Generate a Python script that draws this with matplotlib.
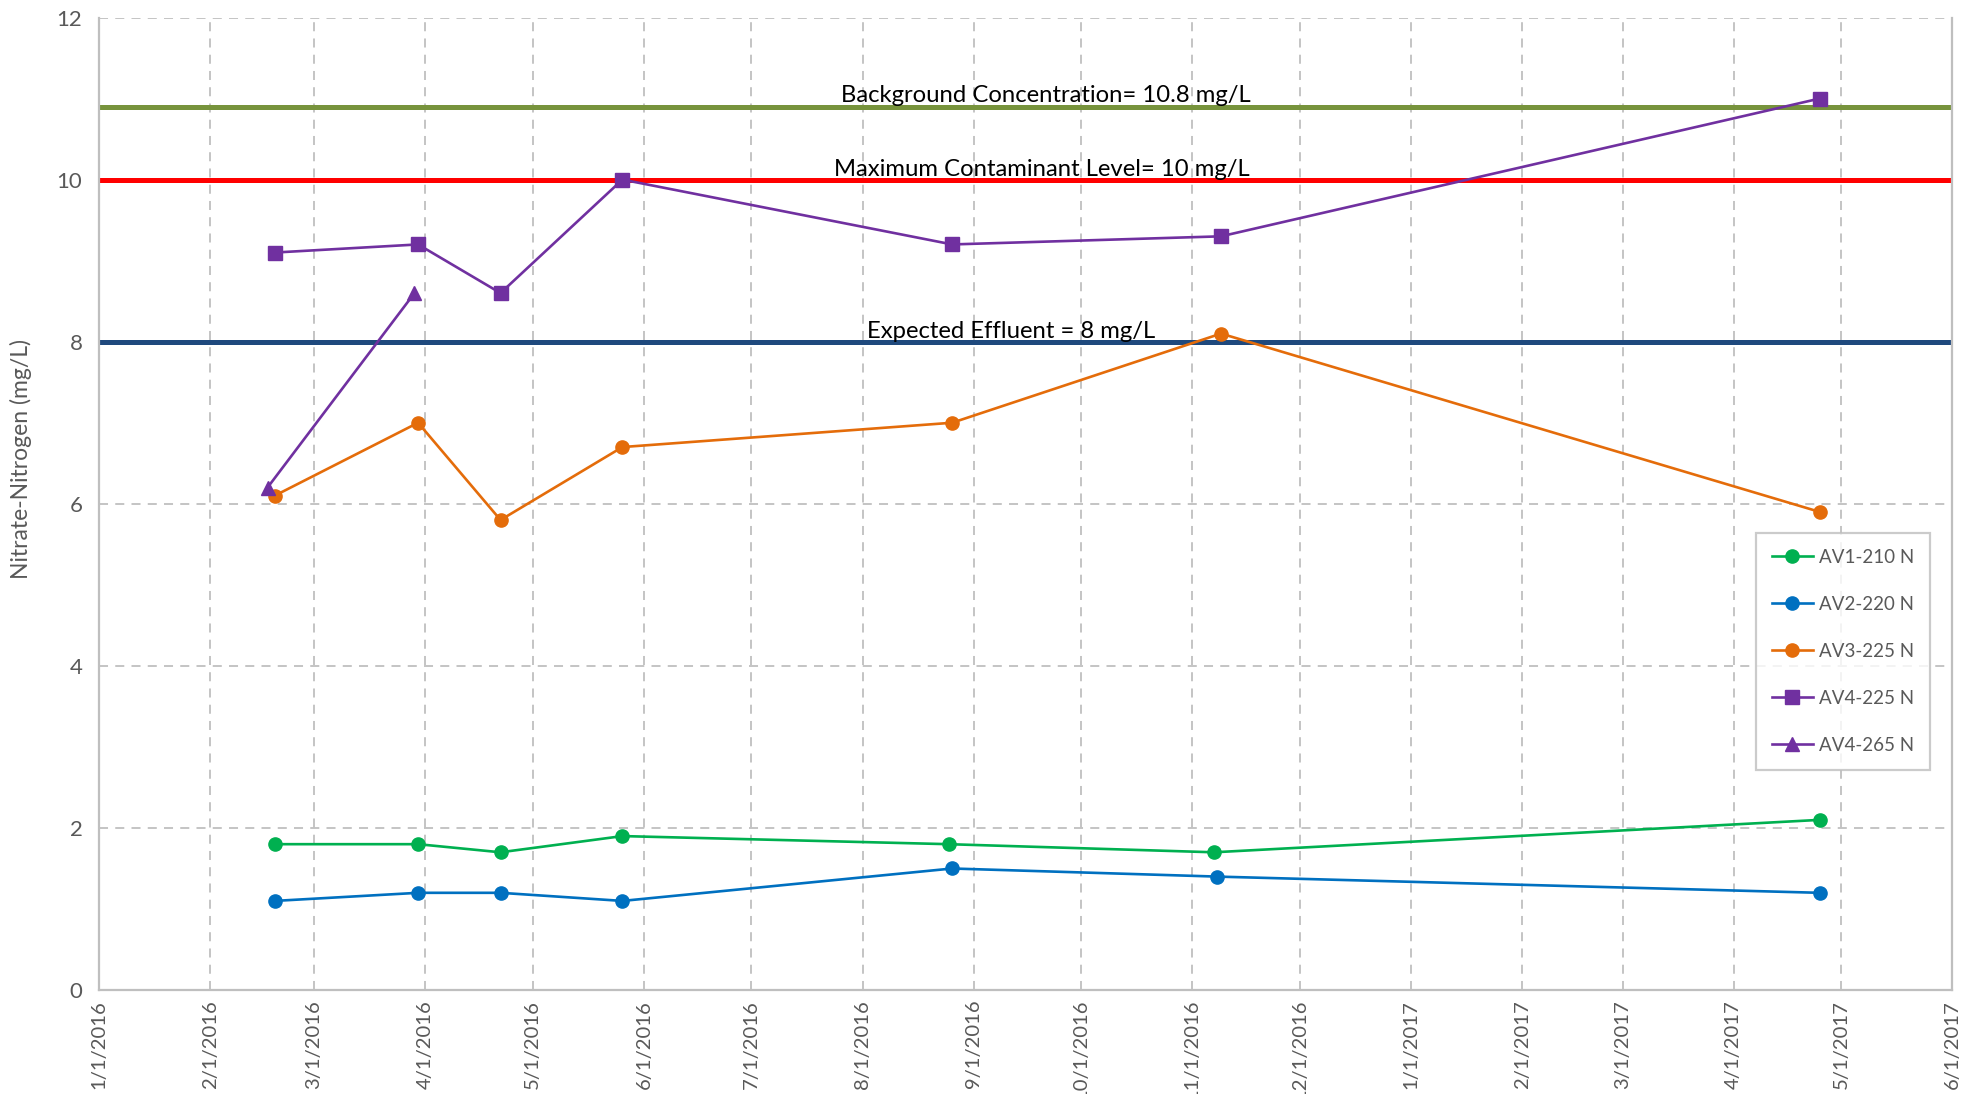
import matplotlib
matplotlib.use("Agg")
import matplotlib.pyplot as plt
import matplotlib.dates as mdates
from matplotlib.ticker import FuncFormatter
import datetime as dt

plt.rcParams['font.family'] = ['Lato', 'DejaVu Sans']

# ---- data ----
sample_dates = ["2016-02-19", "2016-03-30", "2016-04-22", "2016-05-26",
                "2016-08-26", "2016-11-09", "2017-04-25"]
av1_dates = ["2016-02-19", "2016-03-30", "2016-04-22", "2016-05-26",
             "2016-08-25", "2016-11-07", "2017-04-25"]
av2_dates = ["2016-02-19", "2016-03-30", "2016-04-22", "2016-05-26",
             "2016-08-26", "2016-11-08", "2017-04-25"]
av1_210 = [1.8, 1.8, 1.7, 1.9, 1.8, 1.7, 2.1]
av2_220 = [1.1, 1.2, 1.2, 1.1, 1.5, 1.4, 1.2]
av3_225 = [6.1, 7.0, 5.8, 6.7, 7.0, 8.1, 5.9]
av4_225 = [9.1, 9.2, 8.6, 10.0, 9.2, 9.3, 11.0]
av4_265_dates = ["2016-02-17", "2016-03-29"]
av4_265 = [6.2, 8.6]

background_level = 10.9
mcl_level = 10.0
effluent_level = 8.0
ref_labels = ["Background Concentration= 10.8 mg/L",
              "Maximum Contaminant Level= 10 mg/L",
              "Expected Effluent = 8 mg/L"]

x_start, x_end = "2016-01-01", "2017-06-01"
y_ticks = [0, 2, 4, 6, 8, 10, 12]

def to_dt(lst):
    return [dt.datetime.strptime(s, "%Y-%m-%d") for s in lst]

# ---- figure ----
fig = plt.figure(figsize=(19.77, 10.94), dpi=100)
ax = fig.add_axes([0.0501, 0.095, 0.9374, 0.889])

grid_c = "#BFBFBF"
ax.set_xlim(dt.datetime.strptime(x_start, "%Y-%m-%d"), dt.datetime.strptime(x_end, "%Y-%m-%d"))
ax.set_ylim(0, 12)
ax.set_yticks(y_ticks)
ax.xaxis.set_major_locator(mdates.MonthLocator())
ax.xaxis.set_major_formatter(FuncFormatter(
    lambda v, p: (lambda d: f"{d.month}/{d.day}/{d.year}")(mdates.num2date(v))))
ax.grid(True, color=grid_c, linestyle=(0, (5, 4)), linewidth=1.3)
ax.set_axisbelow(True)
ax.spines["top"].set_visible(False)
for s in ["left", "bottom", "right"]:
    ax.spines[s].set_color(grid_c)
    ax.spines[s].set_linewidth(1.6)
ax.tick_params(axis='both', length=0, colors="#595959")
ax.tick_params(axis='x', labelsize=14.6, pad=7)
ax.tick_params(axis='y', labelsize=16, pad=12)
for lab in ax.get_xticklabels():
    lab.set_rotation(90)
ax.set_ylabel("Nitrate-Nitrogen (mg/L)", fontsize=16.5, color="#595959")
ax.yaxis.set_label_coords(-0.036, 0.546)

# reference lines
ax.axhline(background_level, color="#77933C", linewidth=3.6, zorder=2)
ax.axhline(mcl_level, color="#FF0000", linewidth=3.6, zorder=2)
ax.axhline(effluent_level, color="#1F497D", linewidth=3.6, zorder=2)
trans = ax.get_yaxis_transform()
ax.text(0.511, background_level + 0.06, ref_labels[0], transform=trans,
        ha='center', va='baseline', fontsize=17.2, color='black', zorder=5)
ax.text(0.5085, mcl_level + 0.05, ref_labels[1], transform=trans,
        ha='center', va='baseline', fontsize=17.2, color='black', zorder=5)
ax.text(0.492, effluent_level + 0.05, ref_labels[2], transform=trans,
        ha='center', va='baseline', fontsize=17.2, color='black', zorder=5)

lw, ms = 1.9, 9.5
ax.plot(to_dt(av1_dates), av1_210, color="#00B050", marker='o', lw=lw, ms=ms,
        label="AV1-210 N", zorder=4)
ax.plot(to_dt(av2_dates), av2_220, color="#0070C0", marker='o', lw=lw, ms=ms,
        label="AV2-220 N", zorder=4)
ax.plot(to_dt(sample_dates), av3_225, color="#E46C0A", marker='o', lw=lw, ms=ms,
        label="AV3-225 N", zorder=4)
ax.plot(to_dt(sample_dates), av4_225, color="#7030A0", marker='s', lw=lw, ms=ms,
        label="AV4-225 N", zorder=4)
ax.plot(to_dt(av4_265_dates), av4_265, color="#7030A0", marker='^', lw=lw, ms=ms,
        label="AV4-265 N", zorder=4)

leg = ax.legend(loc='upper left', bbox_to_anchor=(0.894, 0.47), frameon=True,
                fancybox=False, edgecolor=grid_c, fontsize=13.5, labelspacing=1.6,
                handlelength=2.2, handletextpad=0.3, borderpad=0.85, borderaxespad=0)
leg.get_frame().set_linewidth(1.6)
for t in leg.get_texts():
    t.set_color("#595959")

fig.savefig("out.png", dpi=100)
